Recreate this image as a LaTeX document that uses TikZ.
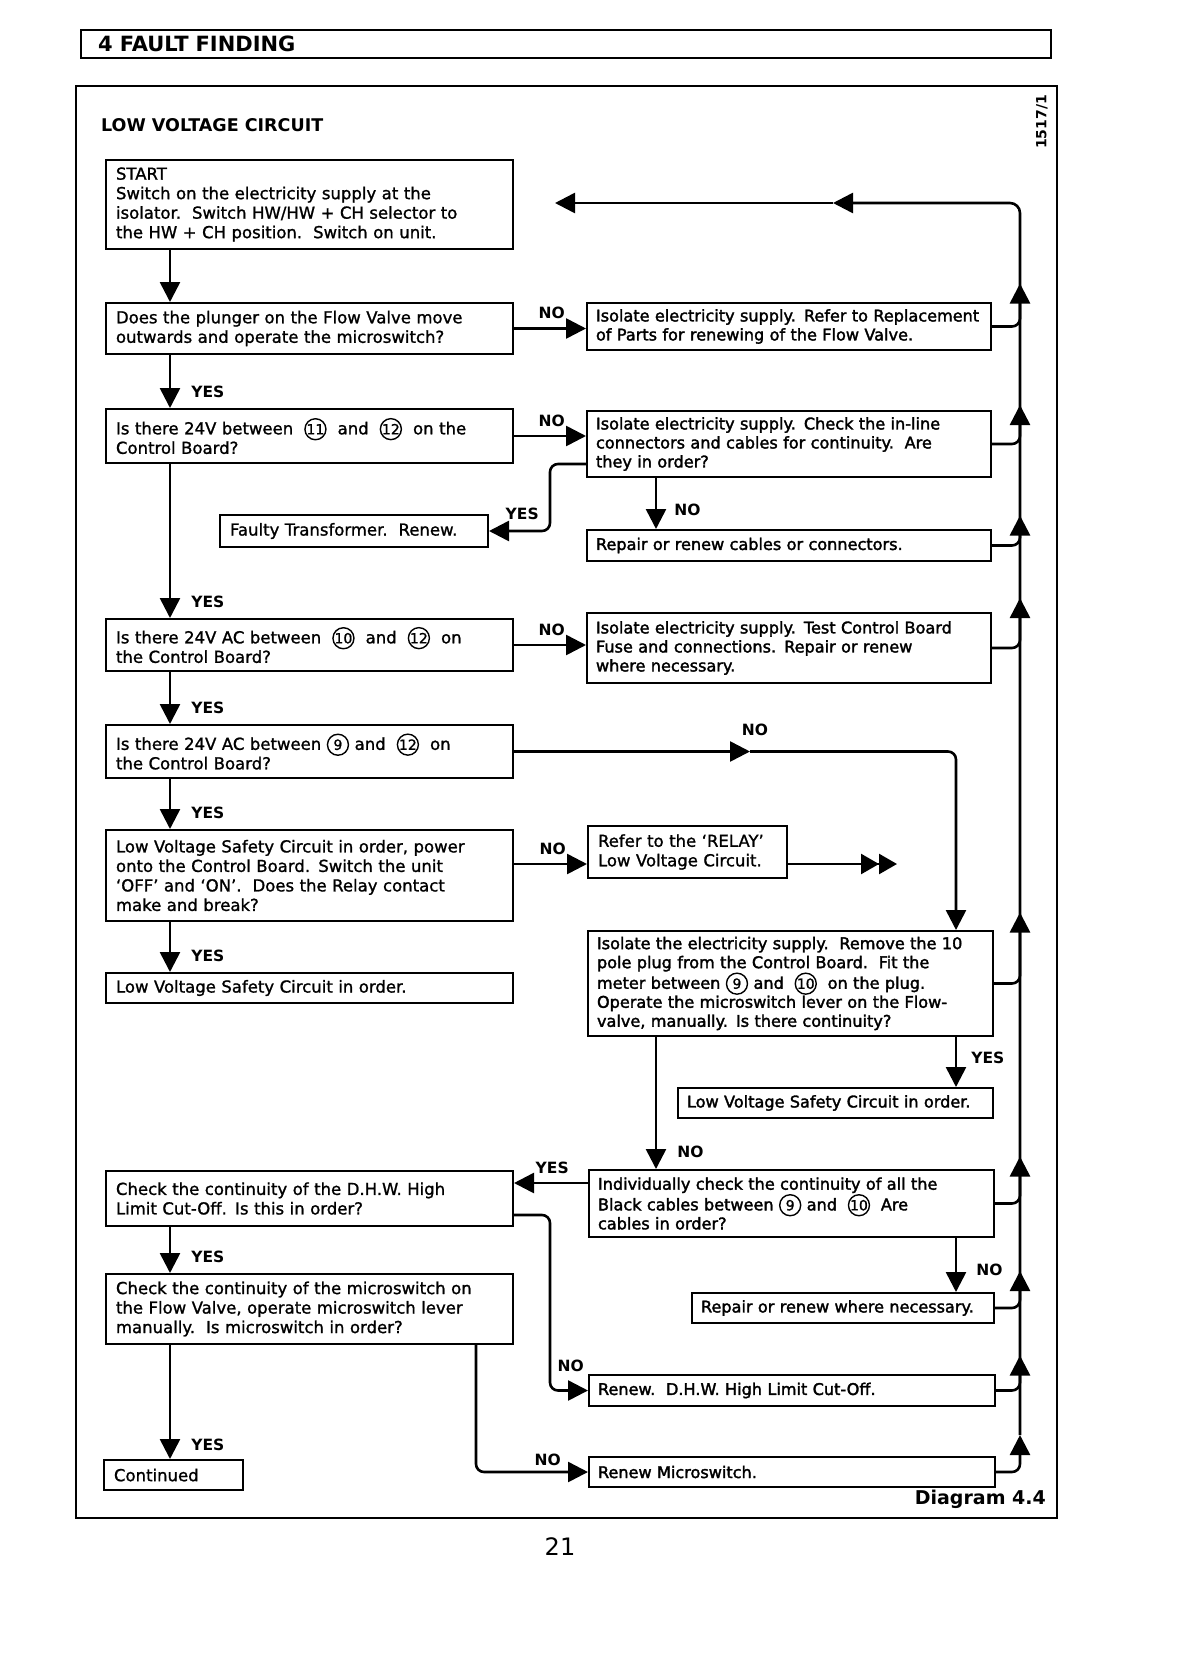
\documentclass[tikz,border=0pt]{standalone}
\usepackage{fontspec}
\setmainfont{DejaVu Sans}
\usepackage{tikz}
\usetikzlibrary{arrows.meta,positioning,calc}

\newfontfamily\bodyfont[FakeBold=1.2]{DejaVu Sans}
\newfontfamily\heavyfont[FakeBold=2]{DejaVu Sans}
% circled terminal number
\newcommand{\cnum}[1]{\tikz[baseline=(cn.base)]\node[circle, draw, line width=1.4pt, inner sep=0pt, minimum size=21pt, text width={}, anchor=center, fill=none, font=\bodyfont\fontsize{14}{14}\selectfont] (cn) {#1};}

\begin{document}
\begin{tikzpicture}[
  x=1pt, y=-1pt,
  box/.style={draw, line width=2pt, fill=white, anchor=north west, align=left, inner ysep=0pt},
  lbox/.style={box, inner xsep=10pt, font=\bodyfont\fontsize{16.5}{19.5}\selectfont},
  rbox/.style={box, inner xsep=9pt, font=\heavyfont\fontsize{16.1}{19}\selectfont},
  flow/.style={-{Triangle[length=20pt, width=20pt]}, line width=2.6pt},
  yesno/.style={font=\normalfont\bfseries\fontsize{15.5}{15.5}\selectfont, inner sep=0pt},
  heading/.style={font=\normalfont\bfseries\fontsize{#1}{#1}\selectfont, inner sep=0pt},
]
\useasboundingbox (0,0) rectangle (1180,1670);

% Page bar and frame
\node[heading=21, draw, line width=2.4pt, anchor=north west, text width=936pt, inner xsep=17pt, inner ysep=0pt, minimum height=28pt, align=left] (hdr) at (80,29) {4 FAULT FINDING};
\node[draw, line width=2.4pt, anchor=north west, minimum width=981pt, minimum height=1432pt, inner sep=0pt] (frame) at (75,85) {};
\node[heading=17.5, anchor=west] (lvc) at (101,125) {LOW VOLTAGE CIRCUIT};
\node[heading=14, rotate=90] (drwno) at (1042,122) {1517/1};
\node[heading=19, anchor=east] (diag) at (1046,1499) {Diagram 4.4};
\node[font=\normalfont\fontsize{24}{24}\selectfont] (pageno) at (560,1547) {21};

% Helper columns
\coordinate (lx) at (170,0);
\coordinate (tx) at (550,0);
\coordinate (nx) at (656,0);
\coordinate (ex) at (956,0);
\coordinate (mx) at (476,0);
\coordinate (rx) at (1020,0);
\coordinate (nomid) at (750,0);
\coordinate (relayend) at (897,0);
\coordinate (rmid) at (833,203);
\coordinate (rtop) at (555,203);

% Left column
\node[lbox, text width=387pt, minimum height=89pt] (start) at (105,159) {START\\Switch on the electricity supply at the\\isolator.\ \ Switch HW/HW + CH selector to\\the HW + CH position.\ \ Switch on unit.};
\node[lbox, text width=387pt, minimum height=51pt] (q1) at (105,302) {Does the plunger on the Flow Valve move\\outwards and operate the microswitch?};
\node[lbox, text width=387pt, minimum height=54pt] (q2) at (105,408) {Is there 24V between\ \ \cnum{11}\ \ and\ \ \cnum{12}\ \ on the\\Control Board?};
\node[lbox, text width=248pt, minimum height=32pt] (faulty) at (219,514) {Faulty Transformer.\ \ Renew.};
\node[lbox, text width=387pt, minimum height=52pt] (q3) at (105,618) {Is there 24V AC between\ \ \cnum{10}\ \ and\ \ \cnum{12}\ \ on\\the Control Board?};
\node[lbox, text width=387pt, minimum height=53pt] (q4) at (105,724) {Is there 24V AC between \cnum{9}\ and\ \ \cnum{12}\ \ on\\the Control Board?};
\node[lbox, text width=387pt, minimum height=91pt] (q5) at (105,829) {Low Voltage Safety Circuit in order, power\\onto the Control Board. Switch the unit\\‘OFF’ and ‘ON’.\ \ Does the Relay contact\\make and break?};
\node[lbox, text width=387pt, minimum height=30pt] (ok1) at (105,972) {Low Voltage Safety Circuit in order.};
\node[lbox, text width=387pt, minimum height=55pt] (q6) at (105,1170) {Check the continuity of the D.H.W. High\\Limit Cut-Off. Is this in order?};
\node[lbox, text width=387pt, minimum height=70pt] (q7) at (105,1273) {Check the continuity of the microswitch on\\the Flow Valve, operate microswitch lever\\manually.\ \ Is microswitch in order?};
\node[lbox, text width=119pt, minimum height=30pt] (cont) at (103,1459) {Continued};

% Right column
\node[rbox, text width=386pt, minimum height=47pt] (r1) at (586,302) {Isolate electricity supply. Refer to Replacement\\of Parts for renewing of the Flow Valve.};
\node[rbox, text width=386pt, minimum height=66pt] (r2) at (586,410) {Isolate electricity supply. Check the in-line\\connectors and cables for continuity.\ \ Are\\they in order?};
\node[rbox, text width=386pt, minimum height=31pt] (r3) at (586,529) {Repair or renew cables or connectors.};
\node[rbox, text width=386pt, minimum height=70pt] (r4) at (586,612) {Isolate electricity supply. Test Control Board\\Fuse and connections. Repair or renew\\where necessary.};
\node[lbox, text width=179pt, minimum height=52pt] (r5) at (587,825) {Refer to the ‘RELAY’\\Low Voltage Circuit.};
\node[rbox, text width=387pt, minimum height=105pt] (r6) at (587,930) {Isolate the electricity supply.\ \ Remove the 10\\pole plug from the Control Board.\ \ Fit the\\meter between \cnum{9}\ and\ \ \cnum{10}\ \ on the plug.\\Operate the microswitch lever on the Flow-\\valve, manually. Is there continuity?};
\node[rbox, text width=297pt, minimum height=30pt] (ok2) at (677,1087) {Low Voltage Safety Circuit in order.};
\node[rbox, text width=387pt, minimum height=67pt] (r7) at (588,1169) {Individually check the continuity of all the\\Black cables between \cnum{9}\ and\ \ \cnum{10}\ \ Are\\cables in order?};
\node[rbox, text width=284pt, minimum height=30pt] (r8) at (691,1292) {Repair or renew where necessary.};
\node[rbox, text width=388pt, minimum height=31pt] (r9) at (588,1374) {Renew.\ \ D.H.W. High Limit Cut-Off.};
\node[rbox, text width=388pt, minimum height=30pt] (r10) at (588,1456) {Renew Microswitch.};

% Main YES chain
\draw[flow] (start.south -| lx) -- (q1.north -| lx);
\draw[flow] (q1.south -| lx) -- (q2.north -| lx) node[yesno, anchor=south west, shift={(20pt,9pt)}] {YES};
\draw[flow] (q2.south -| lx) -- (q3.north -| lx) node[yesno, anchor=south west, shift={(20pt,9pt)}] {YES};
\draw[flow] (q3.south -| lx) -- (q4.north -| lx) node[yesno, anchor=south west, shift={(20pt,9pt)}] {YES};
\draw[flow] (q4.south -| lx) -- (q5.north -| lx) node[yesno, anchor=south west, shift={(20pt,9pt)}] {YES};
\draw[flow] (q5.south -| lx) -- (ok1.north -| lx) node[yesno, anchor=south west, shift={(20pt,9pt)}] {YES};
\draw[flow] (q6.south -| lx) -- (q7.north -| lx) node[yesno, anchor=south west, shift={(20pt,9pt)}] {YES};
\draw[flow] (q7.south -| lx) -- (cont.north -| lx) node[yesno, anchor=south west, shift={(20pt,7pt)}] {YES};

% NO branches to the right
\draw[flow] (q1.east) -- (q1.east -| r1.west) node[yesno, anchor=south east, shift={(-20pt,8pt)}] {NO};
\draw[flow] (q2.east) -- (q2.east -| r2.west) node[yesno, anchor=south east, shift={(-20pt,8pt)}] {NO};
\draw[flow] (q3.east) -- (q3.east -| r4.west) node[yesno, anchor=south east, shift={(-20pt,8pt)}] {NO};
\draw[flow] ([yshift=-12pt]r5.west -| q5.east) -- ([yshift=-12pt]r5.west) node[yesno, anchor=south east, shift={(-20pt,8pt)}] {NO};
\draw[flow] (r2.south -| nx) -- (r3.north -| nx) node[yesno, anchor=south west, shift={(17pt,12pt)}] {NO};
\draw[flow, rounded corners=8pt] ([yshift=14pt]r2.south west) -| (tx |- faulty.east) node[yesno, anchor=south east, shift={(-10pt,10pt)}] {YES} -- (faulty.east);

% Relay branch
\draw[flow] (q4.east) -- (q4.east -| nomid) node[yesno, anchor=south, shift={(5pt,14pt)}] {NO};
\draw[flow, rounded corners=8pt] (q4.east -| nomid) -| (r6.north -| ex);
\draw[-{Triangle[length=18pt,width=20pt] Triangle[length=18pt,width=20pt]}, line width=2.6pt] ([yshift=-12pt]r5.east) -- ([yshift=-12pt]r5.east -| relayend);

% Continuity checks
\draw[flow] (r6.south -| ex) -- (ok2.north -| ex) node[yesno, anchor=south west, shift={(14pt,22pt)}] {YES};
\draw[flow] (r6.south -| nx) -- (r7.north -| nx) node[yesno, anchor=south west, shift={(20pt,10pt)}] {NO};
\draw[flow] ([yshift=-14pt]r7.north west) -- node[pos=0, yesno, anchor=south east, shift={(-18pt,8pt)}] {YES} ([yshift=-14pt]r7.north west -| q6.east);
\draw[flow] (r7.south -| ex) -- (r8.north -| ex) node[yesno, anchor=south west, shift={(19pt,15pt)}] {NO};
\draw[flow, rounded corners=8pt] ([yshift=12pt]q6.south east) -| (tx |- r9.west) -- (r9.west) node[yesno, anchor=south east, shift={(-3pt,17pt)}] {NO};
\draw[flow, rounded corners=8pt] (q7.south -| mx) |- (r10.west) node[yesno, anchor=south east, shift={(-26pt,5pt)}] {NO};

% Return rail back to START
\draw[flow, rounded corners=8pt] (r1.east) -| ([yshift=43pt]r1.east -| rx);
\draw[flow, rounded corners=8pt] (r2.east) -| ([yshift=39pt]r2.east -| rx);
\draw[flow, rounded corners=8pt] (r3.east) -| ([yshift=30pt]r3.east -| rx);
\draw[flow, rounded corners=8pt] (r4.east) -| ([yshift=50pt]r4.east -| rx);
\draw[flow, rounded corners=8pt] (r6.east) -| ([yshift=71pt]r6.east -| rx);
\draw[flow, rounded corners=8pt] (r7.east) -| ([yshift=47pt]r7.east -| rx);
\draw[flow, rounded corners=8pt] (r8.east) -| ([yshift=37pt]r8.east -| rx);
\draw[flow, rounded corners=8pt] (r9.east) -| ([yshift=35pt]r9.east -| rx);
\draw[flow, rounded corners=8pt] (r10.east) -| ([yshift=37pt]r10.east -| rx);
\draw[flow, rounded corners=10pt] ([yshift=37pt]r10.east -| rx) -- (rx |- rmid) -- (rmid);
\draw[flow] (rmid) -- (rtop);

\end{tikzpicture}
\end{document}
